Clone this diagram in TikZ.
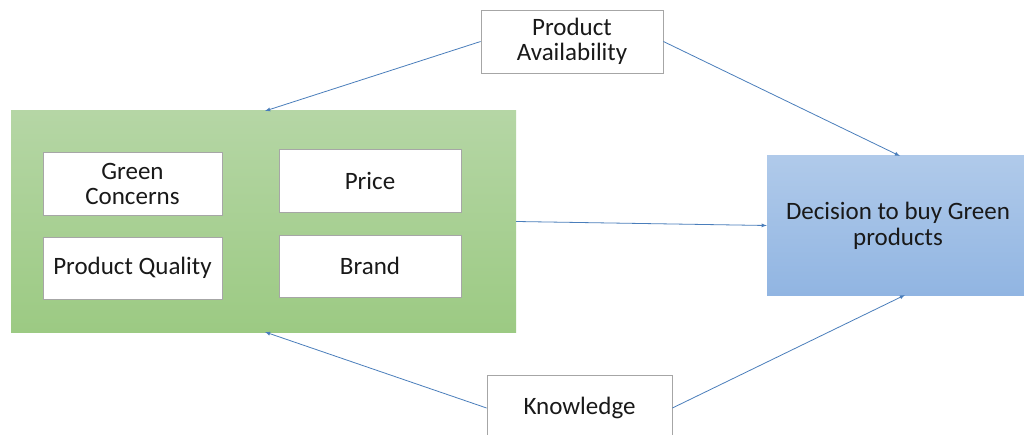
\documentclass[tikz,border=0pt]{standalone}
\usepackage{fontspec}
\setmainfont{Carlito}
\usetikzlibrary{arrows}
\definecolor{linkblue}{HTML}{4A7EBB}
\definecolor{boxgray}{HTML}{A6A6A6}
\tikzstyle{arrow} = [draw=linkblue,line width=0.8pt,-latex]
\tikzstyle{factor} = [draw=boxgray,fill=white,line width=0.8pt,align=center,
	font=\fontsize{25}{25}\selectfont,text=black!90,inner sep=0pt]

\begin{document}
\begin{tikzpicture}[x=1pt,y=-1pt]
	\useasboundingbox[fill=white] (0,0) rectangle (1024,435);
	% outer boxes
	\node[draw=none,minimum width=505pt,minimum height=221pt,
		top color={rgb,255:red,181;green,214;blue,165},
		bottom color={rgb,255:red,156;green,202;blue,131}] (group) at (263.5,221.5) {};
	\node[draw=none,minimum width=262pt,minimum height=139pt,inner sep=0pt,
		top color={rgb,255:red,176;green,202;blue,234},
		bottom color={rgb,255:red,145;green,181;blue,226},
		align=center,font=\fontsize{25}{26}\selectfont,text=black!90] (decision) at (898,225.5)
		{Decision to buy Green\\products};
	% factors inside the group
	\node[factor,minimum width=179pt,minimum height=63pt] (concerns) at (132.5,183.5) {Green\\Concerns};
	\node[factor,minimum width=182pt,minimum height=63pt] (price) at (370,180.5) {Price};
	\node[factor,minimum width=179pt,minimum height=62pt] (quality) at (132.5,268) {Product Quality};
	\node[factor,minimum width=182pt,minimum height=62pt] (brand) at (370,266) {Brand};
	% moderators
	\node[factor,minimum width=182pt,minimum height=63pt] (avail) at (572,41.5) {Product\\Availability};
	\node[factor,minimum width=185pt,minimum height=66pt] (know) at (579.5,408) {Knowledge};
	\coordinate (gtop) at (265,111);
	\coordinate (gbot) at (265,332);
	\coordinate (dtop) at (900,156);
	\coordinate (dbot) at (905,295);
	% links
	\draw[arrow] (avail.west) -- (gtop);
	\draw[arrow] (avail.east) -- (dtop);
	\draw[arrow] (group.east) -- (decision.west);
	\draw[arrow] (know.west) -- (gbot);
	\draw[arrow] (know.east) -- (dbot);
\end{tikzpicture}
\end{document}
